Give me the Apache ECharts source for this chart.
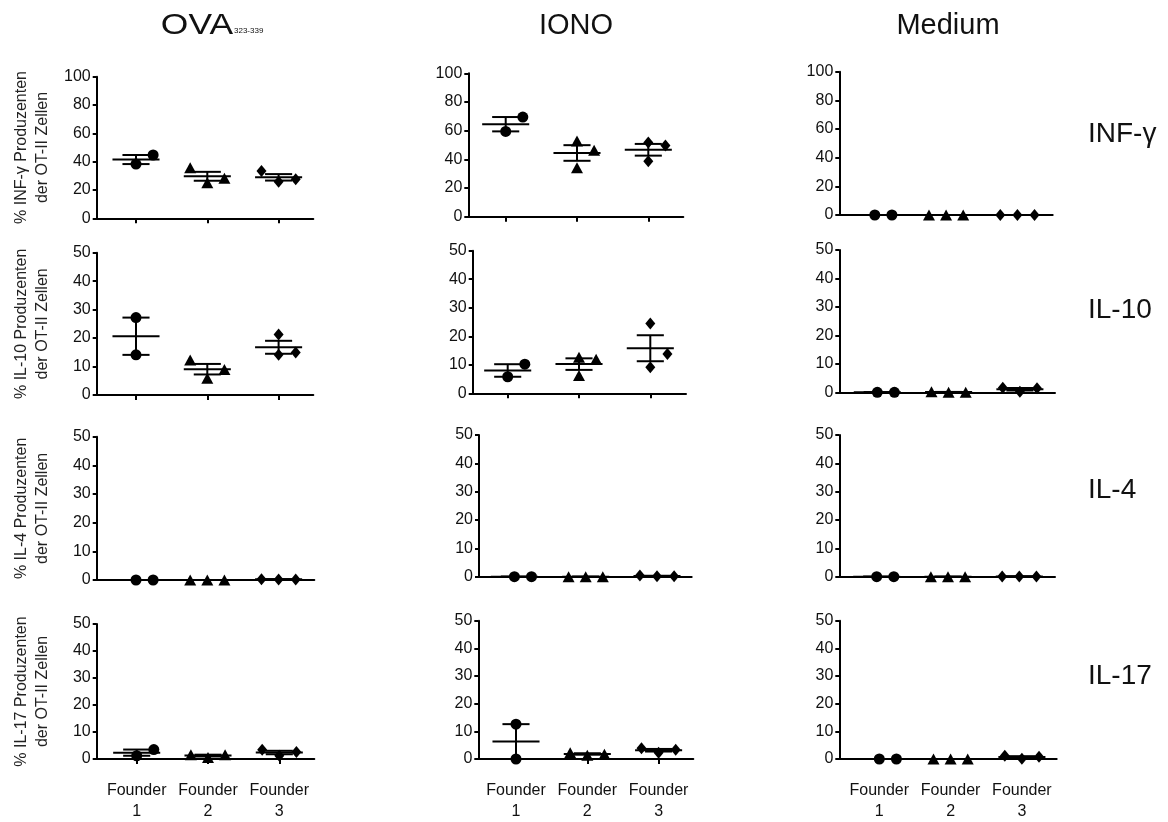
<!DOCTYPE html>
<html><head><meta charset="utf-8">
<script src="https://cdn.jsdelivr.net/npm/echarts@6/dist/echarts.min.js"></script>
<style>html,body{margin:0;padding:0;background:#fff}#c{width:1168px;height:822px}</style>
</head><body><div id="c"></div>
<script>
// ---------------- DATA ----------------
const categories = ['Founder\n1', 'Founder\n2', 'Founder\n3'];
const stimuli = ['OVA', 'IONO', 'Medium'];
const cytokines = ['INF-γ', 'IL-10', 'IL-4', 'IL-17'];
const yMax = [100, 50, 50, 50];
const yStep = [20, 10, 10, 10];
const yNames = [
  '% INF-γ Produzenten\nder OT-II Zellen',
  '% IL-10 Produzenten\nder OT-II Zellen',
  '% IL-4 Produzenten\nder OT-II Zellen',
  '% IL-17 Produzenten\nder OT-II Zellen'
];

// values per founder group (Founder 1, Founder 2, Founder 3)
const ifngOVA    = [[38.3, 44.7], [35.7, 25.1, 28.2], [33.4, 25.9, 27.5]];
const ifngIONO   = [[59.5, 69.5], [52.8, 34.2, 46.3], [51.8, 38.6, 49.6]];
const ifngMedium = [[0, 0], [0, 0, 0], [0, 0, 0]];
const il10OVA    = [[27.2, 14.1], [12.3, 5.9, 9.0], [21.3, 14.1, 14.9]];
const il10IONO   = [[5.8, 10.2], [12.6, 6.2, 11.9], [24.5, 9.1, 13.8]];
const il10Medium = [[0, 0], [0.2, 0, 0], [1.6, 0.2, 1.4]];
const il4OVA     = [[0, 0], [0, 0, 0], [0.3, 0.2, 0.2]];
const il4IONO    = [[0, 0], [0, 0, 0], [0.4, 0.2, 0.2]];
const il4Medium  = [[0, 0], [0, 0, 0], [0.1, 0.1, 0.1]];
const il17OVA    = [[1.2, 3.5], [1.6, 0.6, 1.6], [3.4, 1.2, 2.6]];
const il17IONO   = [[12.6, 0], [2.3, 1.4, 1.75], [3.9, 2.3, 3.3]];
const il17Medium = [[0, 0], [0, 0, 0], [1.2, 0.1, 0.8]];

const panels = [
  [ifngOVA, ifngIONO, ifngMedium],
  [il10OVA, il10IONO, il10Medium],
  [il4OVA, il4IONO, il4Medium],
  [il17OVA, il17IONO, il17Medium]
];

// ---------------- LAYOUT ----------------
// horizontal scatter slot of each point within its group (-1, 0, +1)
const J3 = [[0, 1], [-1, 0, 1], [-1, 0, 1]];
const jitter = [
  [J3, [[0, 1], [0, 0, 1], [0, 0, 1]], J3],
  [[[0, 0], [-1, 0, 1], [0, 0, 1]], [[0, 1], [0, 0, 1], [0, 0, 1]], J3],
  [J3, J3, J3],
  [J3, [[0, 0], [-1, 0, 1], [-1, 0, 1]], J3]
];
// [left, top, width, height, pixel x of Founder 1]
const rects = [
  [[96.7, 76.7, 216.6, 141.6, 136], [468.3, 73.3, 215, 143.4, 505.7], [839.3, 71.7, 213.4, 143.3, 874.8]],
  [[96.7, 252.7, 216.6, 142.3, 136], [472.7, 250.7, 213.3, 142.6, 507.7], [839.3, 250, 215.7, 142.3, 877.3]],
  [[96.7, 436.7, 217.6, 143.3, 136], [479, 435, 212.7, 141.7, 514.4], [839.3, 435, 215.7, 141.7, 876.7]],
  [[96.7, 624, 217.6, 141.7, 136.7], [478.3, 620.7, 215, 142.6, 516], [839.3, 620.7, 217.4, 142.6, 879.3]]
];
const SLOT_PX = 71.3;
const JIT = 0.24, MEAN_HW = 0.33, CAP_HW = 0.19;
const symbols = ['circle', 'triangle', 'diamond'];
const symSizes = [[11, 11], [12, 11], [10, 12]];
const FONT = 'Liberation Sans, Arial, sans-serif';

const grids = [], xAxes = [], yAxes = [], series = [];

function meanSem(arr) {
  const n = arr.length;
  const m = arr.reduce((a, b) => a + b, 0) / n;
  const sd = Math.sqrt(arr.reduce((a, b) => a + (b - m) * (b - m), 0) / (n - 1));
  return [m, sd / Math.sqrt(n)];
}

for (let r = 0; r < 4; r++) {
  for (let c = 0; c < 3; c++) {
    const idx = r * 3 + c;
    const [left, top, width, height, c1] = rects[r][c];
    const xMin = 1 - (c1 - left) / SLOT_PX;
    const xMax = xMin + width / SLOT_PX;
    grids.push({left, top, width, height, containLabel: false});
    const showTick = (r !== 2) && (c !== 2);
    xAxes.push({
      type: 'value', gridIndex: idx, min: xMin, max: xMax,
      splitLine: {show: false},
      axisLine: {show: true, onZero: false, lineStyle: {color: '#000', width: 2}},
      axisTick: {show: showTick, customValues: [1, 2, 3], length: 5, lineStyle: {color: '#000', width: 2}},
      axisLabel: {
        show: r === 3, customValues: [1, 2, 3], margin: 21,
        formatter: v => categories[Math.round(v) - 1] || '',
        color: '#111', fontFamily: FONT, fontSize: 16, lineHeight: 21
      }
    });
    yAxes.push({
      type: 'value', gridIndex: idx, min: 0, max: yMax[r], interval: yStep[r],
      splitLine: {show: false},
      axisLine: {show: true, lineStyle: {color: '#000', width: 2}},
      axisTick: {show: true, length: 4, lineStyle: {color: '#000', width: 2}},
      axisLabel: {color: '#111', fontFamily: FONT, fontSize: 16, margin: 6},
      name: c === 0 ? yNames[r] : '',
      nameLocation: 'middle', nameRotate: 90, nameGap: 44,
      nameTextStyle: {color: '#222', fontFamily: FONT, fontSize: 16, lineHeight: 21}
    });
    const groups = panels[r][c];
    const stats = [];
    groups.forEach((vals, g) => {
      const pts = vals.map((v, j) => [g + 1 + jitter[r][c][g][j] * JIT, v]);
      series.push({
        type: 'scatter', xAxisIndex: idx, yAxisIndex: idx, data: pts,
        symbol: symbols[g], symbolSize: symSizes[g], clip: false, silent: true,
        itemStyle: {color: '#000', opacity: 1}, z: 4
      });
      const [m, s] = meanSem(vals);
      stats.push([g + 1, m, s]);
    });
    series.push({
      type: 'custom', xAxisIndex: idx, yAxisIndex: idx, data: stats, clip: false, silent: true, z: 3,
      renderItem: (params, api) => {
        const x = api.value(0), m = api.value(1), s = api.value(2);
        const L = (x1, y1, x2, y2) => {
          const a = api.coord([x1, y1]), b = api.coord([x2, y2]);
          return {type: 'line', shape: {x1: a[0], y1: a[1], x2: b[0], y2: b[1]}, style: {stroke: '#000', lineWidth: 2}};
        };
        return {type: 'group', children: [
          L(x - MEAN_HW, m, x + MEAN_HW, m),
          L(x - CAP_HW, m + s, x + CAP_HW, m + s),
          L(x - CAP_HW, m - s, x + CAP_HW, m - s),
          L(x, m - s, x, m + s)
        ]};
      }
    });
  }
}

const titleFont = '29px ' + FONT;
const graphic = [
  {type: 'text', x: 233, y: 26, scaleX: 1.18, style: {text: stimuli[0], font: '30px ' + FONT, fill: '#111', align: 'right', verticalAlign: 'middle'}},
  {type: 'text', x: 234, y: 31, style: {text: '323-339', font: '8px ' + FONT, fill: '#111', align: 'left', verticalAlign: 'middle'}},
  {type: 'text', x: 576, y: 26, style: {text: stimuli[1], font: titleFont, fill: '#111', align: 'center', verticalAlign: 'middle'}},
  {type: 'text', x: 948, y: 26, style: {text: stimuli[2], font: titleFont, fill: '#111', align: 'center', verticalAlign: 'middle'}}
];
const rowLabelY = [134, 310, 490, 676];
cytokines.forEach((t, i) => {
  graphic.push({type: 'text', x: 1088, y: rowLabelY[i], style: {text: t, font: '28px ' + FONT, fill: '#111', align: 'left', verticalAlign: 'middle'}});
});

const chart = echarts.init(document.getElementById('c'), null, {renderer: 'canvas'});
chart.setOption({
  animation: false,
  backgroundColor: '#fff',
  grid: grids, xAxis: xAxes, yAxis: yAxes, series, graphic
});
</script></body></html>
